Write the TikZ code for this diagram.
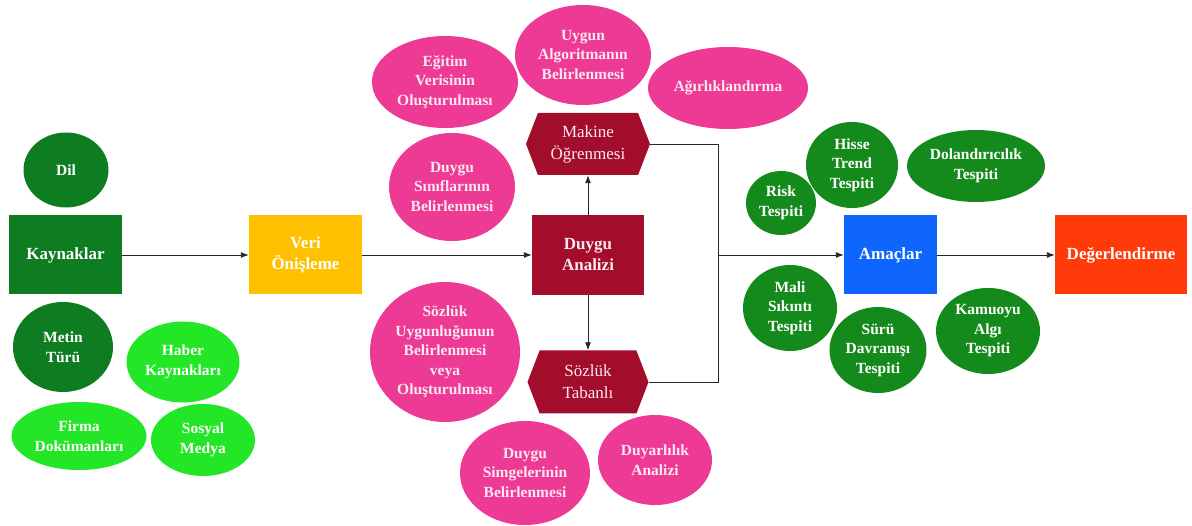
\documentclass[tikz,border=0pt]{standalone}
\usepackage{fontspec}
\setmainfont{Liberation Serif}
\usetikzlibrary{shapes.geometric,shapes.symbols,arrows.meta}
\definecolor{dgreen}{HTML}{0E7D22}
\definecolor{rgreen}{HTML}{148A1C}
\definecolor{lgreen}{HTML}{22E626}
\definecolor{pinkc}{HTML}{EC3A95}
\definecolor{dred}{HTML}{A30D2C}
\definecolor{yellowc}{HTML}{FFC000}
\definecolor{bluec}{HTML}{0F66FF}
\definecolor{redc}{HTML}{FF3B0A}
\definecolor{pinktext}{HTML}{FFE8F0}
\tikzset{
  boxnode/.style={rectangle, inner sep=0pt, text=white, align=center,
    font=\fontsize{17}{21}\selectfont\bfseries},
  ell/.style={ellipse, inner sep=0pt, text=white, align=center,
    font=\fontsize{15.5}{19.5}\selectfont\bfseries},
  pinkell/.style={ell, fill=pinkc, text=pinktext},
  dgell/.style={ell, fill=dgreen},
  rgell/.style={ell, fill=rgreen},
  lgell/.style={ell, fill=lgreen},
  hexnode/.style={signal, signal to=east and west, signal pointer angle=138,
    fill=dred, inner sep=0pt, text=pinktext, align=center,
    font=\fontsize{17}{22}\selectfont},
  conn/.style={draw=black!85, line width=0.9pt},
  arr/.style={conn, -{Latex[length=8pt,width=6pt]}}
}
\begin{document}
\begin{tikzpicture}[x=1pt,y=-1pt]
\useasboundingbox (0,0) rectangle (1192,526);
% main boxes
\node[boxnode, fill=dgreen, minimum width=113pt, minimum height=79pt] (kay) at (65.5,255) {Kaynaklar};
\node[boxnode, fill=yellowc, minimum width=113pt, minimum height=79pt] (veri) at (305.5,255) {Veri\\Önişleme};
\node[boxnode, fill=dred, text=pinktext, minimum width=112pt, minimum height=80pt] (da) at (588,255) {Duygu\\Analizi};
\node[boxnode, fill=bluec, minimum width=93pt, minimum height=79pt] (am) at (890.5,255) {Amaçlar};
\node[boxnode, fill=redc, minimum width=132pt, minimum height=79pt] (deg) at (1121,255) {Değerlendirme};
% hexagons
\node[hexnode, minimum width=124pt, minimum height=62pt] (mak) at (588,144) {Makine\\Öğrenmesi};
\node[hexnode, minimum width=121pt, minimum height=63pt] (soz) at (588,382) {Sözlük\\Tabanlı};
% left ellipses
\node[dgell, minimum width=85pt, minimum height=75pt] (dil) at (66,170) {Dil};
\node[dgell, minimum width=100pt, minimum height=90pt] (metin) at (63,347) {Metin\\Türü};
\node[lgell, minimum width=113pt, minimum height=81pt] (haber) at (183,362) {Haber\\Kaynakları};
\node[lgell, minimum width=135pt, minimum height=68pt] (firma) at (79,436) {Firma\\Dokümanları};
\node[lgell, minimum width=104pt, minimum height=72pt] (sosyal) at (203,440) {Sosyal\\Medya};
% pink ellipses
\node[pinkell, minimum width=146pt, minimum height=92pt] (egitim) at (445,82) {Eğitim\\Verisinin\\Oluşturulması};
\node[pinkell, minimum width=136pt, minimum height=100pt] (uygun) at (583,55) {Uygun\\Algoritmanın\\Belirlenmesi};
\node[pinkell, minimum width=160pt, minimum height=82pt] (agir) at (728,88) {Ağırlıklandırma};
\node[pinkell, minimum width=126pt, minimum height=108pt] (sinif) at (452,187) {Duygu\\Sınıflarının\\Belirlenmesi};
\node[pinkell, minimum width=150pt, minimum height=140pt] (sozuyg) at (445,352) {Sözlük\\Uygunluğunun\\Belirlenmesi\\veya\\Oluşturulması};
\node[pinkell, minimum width=130pt, minimum height=104pt] (simge) at (525,473) {Duygu\\Simgelerinin\\Belirlenmesi};
\node[pinkell, minimum width=114pt, minimum height=90pt] (duyar) at (655,460) {Duyarlılık\\Analizi};
% right ellipses
\node[rgell, minimum width=92pt, minimum height=86pt] (hisse) at (852,165) {Hisse\\Trend\\Tespiti};
\node[rgell, minimum width=138pt, minimum height=72pt] (dolan) at (976,166) {Dolandırıcılık\\Tespiti};
\node[rgell, minimum width=70pt, minimum height=64pt] (risk) at (781,203) {Risk\\Tespiti};
\node[rgell, minimum width=94pt, minimum height=86pt] (mali) at (790,308) {Mali\\Sıkıntı\\Tespiti};
\node[rgell, minimum width=97pt, minimum height=86pt] (suru) at (878,350) {Sürü\\Davranışı\\Tespiti};
\node[rgell, minimum width=104pt, minimum height=86pt] (kamu) at (988,331) {Kamuoyu\\Algı\\Tespiti};
% connectors
\coordinate (jt) at (718,144);
\coordinate (jb) at (718,382);
\draw[arr] (kay.east) -- (veri.west);
\draw[arr] (veri.east) -- (da.west);
\draw[arr] (da.north) -- (mak.south);
\draw[arr] (da.south) -- (soz.north);
\draw[conn] (mak.east) -- (jt) -- (jb) -- (soz.east);
\draw[arr] (jt |- am.west) -- (am.west);
\draw[arr] (am.east) -- (deg.west);
\end{tikzpicture}
\end{document}
